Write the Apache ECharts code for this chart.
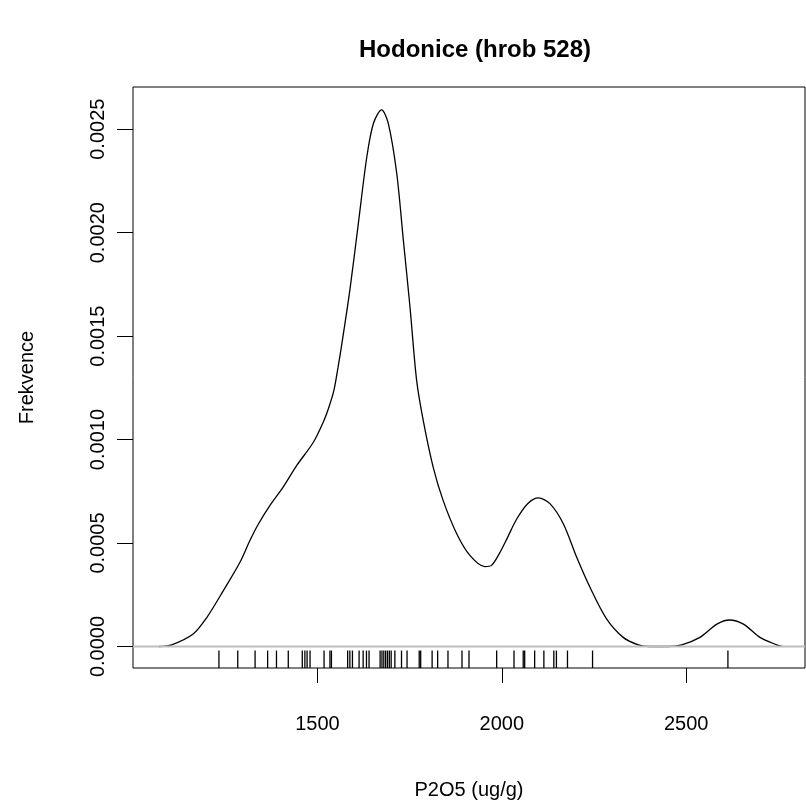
<!DOCTYPE html>
<html>
<head>
<meta charset="utf-8">
<script src="https://cdn.jsdelivr.net/npm/echarts@6/dist/echarts.min.js"></script>
<style>
  html, body { margin: 0; padding: 0; background: #fff; }
  #main { width: 806px; height: 803px; }
</style>
</head>
<body>
<div id="main"></div>
<script>
// density curve
var densX = [1070, 1105, 1163, 1200, 1245, 1290, 1317, 1340, 1371, 1407, 1444, 1489, 1516, 1530, 1545,
    1556, 1566, 1588, 1611, 1634, 1652, 1674, 1692, 1715, 1733, 1751, 1769, 1787, 1814, 1841, 1878, 1914,
    1954, 1972, 1992, 2015, 2040, 2070, 2099, 2131, 2167, 2203, 2239, 2284, 2329, 2370, 2400, 2450, 2488,
    2537, 2583, 2617, 2655, 2700, 2745, 2760];
var densY = [0, 0.000008, 0.00006, 0.00014, 0.00027, 0.000407, 0.000512, 0.000592, 0.000681, 0.00077,
    0.000875, 0.000987, 0.001085, 0.00115, 0.00124, 0.00135, 0.00146, 0.001722, 0.002045, 0.002367,
    0.002529, 0.002593, 0.002529, 0.002287, 0.001964, 0.001641, 0.001286, 0.001092, 0.000866, 0.000705,
    0.000544, 0.000439, 0.000386, 0.000392, 0.000445, 0.000525, 0.000615, 0.000690, 0.000718, 0.000689,
    0.000592, 0.000431, 0.000286, 0.000133, 0.000044, 0.000008, 0, 0, 0.000008, 0.000044, 0.000108,
    0.000128, 0.000108, 0.000044, 0.000008, 0];

// rug (individual measurements)
var rugX = [1233, 1284, 1331, 1365, 1389, 1421, 1459, 1466, 1472, 1480, 1518, 1534, 1538, 1582, 1588,
    1595, 1613, 1624, 1633, 1640, 1670, 1675, 1680, 1685, 1690, 1695, 1700, 1710, 1728, 1743, 1776,
    1780, 1811, 1826, 1854, 1892, 1911, 1986, 2033, 2058, 2062, 2089, 2114, 2141, 2148, 2178, 2246, 2613];

var xTicks = [1500, 2000, 2500];
var yTicks = [0, 0.0005, 0.0010, 0.0015, 0.0020, 0.0025];

var X_MIN = 1000, X_MAX = 2822;
var Y_MIN = -0.000104, Y_MAX = 0.002704;

var chart = echarts.init(document.getElementById('main'));
var font = "'Liberation Sans', Arial, sans-serif";

var curve = densX.map(function (x, i) { return [x, densY[i]]; });

var option = {
    backgroundColor: '#fff',
    animation: false,
    title: {
        text: 'Hodonice (hrob 528)',
        left: 470,
        top: 33,
        textAlign: 'center',
        textStyle: { fontFamily: font, fontSize: 24, fontWeight: 'bold', color: '#000' }
    },
    grid: {
        left: 133, top: 87, right: 1, bottom: 135,
        outerBoundsMode: 'none',
        containLabel: false,
        show: true, borderColor: '#000', borderWidth: 1, backgroundColor: '#fff'
    },
    xAxis: {
        type: 'value',
        min: X_MIN, max: X_MAX,
        name: 'P2O5 (ug/g)',
        nameLocation: 'middle',
        nameGap: 112,
        nameTextStyle: { fontFamily: font, fontSize: 20, color: '#000' },
        splitLine: { show: false },
        axisLine: { show: false, onZero: false },
        axisTick: { show: true, length: 15, lineStyle: { color: '#000' }, customValues: xTicks },
        axisLabel: {
            fontFamily: font, fontSize: 20, color: '#000', margin: 46, customValues: xTicks,
            formatter: function (v) { return String(v); }
        }
    },
    yAxis: {
        type: 'value',
        min: Y_MIN, max: Y_MAX,
        name: 'Frekvence',
        nameLocation: 'middle',
        nameRotate: 90,
        nameGap: 96,
        nameTextStyle: { fontFamily: font, fontSize: 20, color: '#000' },
        splitLine: { show: false },
        axisLine: { show: false, onZero: false },
        axisTick: { show: true, length: 16, lineStyle: { color: '#000' }, customValues: yTicks },
        axisLabel: {
            fontFamily: font, fontSize: 20, color: '#000', rotate: 90, margin: 25,
            customValues: yTicks,
            formatter: function (v) { return v.toFixed(4); }
        }
    },
    series: [
        {
            type: 'line',
            data: curve,
            symbol: 'none',
            smooth: 0.3,
            lineStyle: { color: '#000', width: 1.3 },
            z: 2
        },
        {
            // gray zero line drawn over the curve
            type: 'line',
            data: [[X_MIN, 0], [X_MAX, 0]],
            symbol: 'none',
            silent: true,
            lineStyle: { color: '#bebebe', width: 2 },
            z: 10
        },
        {
            type: 'custom',
            data: rugX.map(function (x) { return [x]; }),
            renderItem: function (params, api) {
                var x = api.value(0);
                var p0 = api.coord([x, Y_MIN]);
                var p1 = api.coord([x, Y_MIN + 0.03 * (Y_MAX - Y_MIN)]);
                return {
                    type: 'line',
                    shape: { x1: p0[0], y1: p0[1], x2: p1[0], y2: p1[1] },
                    style: { stroke: '#000', lineWidth: 1.3 }
                };
            },
            z: 3
        }
    ]
};
chart.setOption(option);
</script>
</body>
</html>
